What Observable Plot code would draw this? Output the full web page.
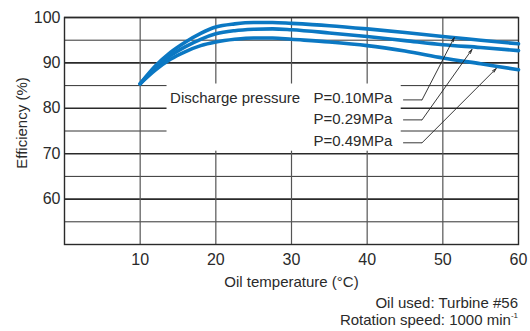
<!DOCTYPE html>
<html>
<head>
<meta charset="utf-8">
<script src="https://cdn.jsdelivr.net/npm/d3@7"></script>
<script src="https://cdn.jsdelivr.net/npm/@observablehq/plot@0.6"></script>
<style>
  body { margin: 0; background: #fff; font-family: "Liberation Sans", Arial, sans-serif; }
  #foot { width: 530px; box-sizing: border-box; padding-right: 12px; text-align: right;
          font-size: 15px; line-height: 17px; color: #2a2a2a; margin-top: 2px; }
  #foot sup { font-size: 8px; vertical-align: 7px; line-height: 0; }
</style>
</head>
<body>
<div id="chart"></div>
<div id="foot">Oil used: Turbine #56<br>Rotation speed: 1000 min<sup>-1</sup></div>
<script>
// Oil temperature (°C)
const temps = [10, 12, 14, 16, 18, 20, 22.5, 25, 27.5, 30, 35, 40, 45, 50, 55, 60];
// Efficiency (%) per discharge pressure
const eff010 = [85.4, 89.3, 92.3, 94.6, 96.5, 97.9, 98.6, 98.9, 98.9, 98.7, 98.2, 97.5, 96.7, 95.8, 95.0, 94.2];
const eff029 = [85.4, 88.9, 91.6, 93.6, 95.2, 96.4, 97.1, 97.4, 97.5, 97.3, 96.6, 95.8, 94.9, 94.0, 93.4, 92.7];
const eff049 = [85.4, 88.4, 90.8, 92.5, 93.8, 94.6, 95.2, 95.5, 95.5, 95.2, 94.6, 93.8, 92.6, 91.1, 89.8, 88.5];
const pressures = ["P=0.10MPa", "P=0.29MPa", "P=0.49MPa"];
const xTicks = [10, 20, 30, 40, 50, 60];
const yTicks = [60, 70, 80, 90, 100];
const yMinor = [55, 65, 75, 85, 95];

// annotation anchors in data units
const labelRowY = [82.25, 77.6, 72.75];
const leaderY = [81.85, 77.45, 72.4];
const arrowTipX = [51.5, 53.85, 57.05];
const arrowTipY = [95.55, 92.95, 88.75];

const series = [eff010, eff029, eff049];
const rows = [];
series.forEach((vals, k) => temps.forEach((t, i) => rows.push({p: pressures[k], t, e: vals[i]})));

const leaders = pressures.map((p, k) => ({
  p, ly: labelRowY[k], y: leaderY[k], tx: arrowTipX[k], ty: arrowTipY[k]
}));

const blue = "#0b78c3";
const ink = "#2a2a2a";
const chart = Plot.plot({
  width: 530,
  height: 292,
  marginTop: 17,
  marginLeft: 64,
  marginRight: 12,
  marginBottom: 48,
  style: {fontFamily: "Liberation Sans, Arial, sans-serif", color: ink, background: "#fff"},
  x: {domain: [0, 60], ticks: xTicks},
  y: {domain: [50, 100], ticks: yTicks},
  marks: [
    Plot.ruleY(yMinor, {stroke: "#333", strokeWidth: 1}),
    Plot.ruleY(yTicks, {stroke: ink, strokeWidth: 1.6}),
    Plot.ruleX(xTicks.slice(0, -1), {stroke: "#555", strokeWidth: 1.2}),
    // white label panel
    Plot.rect([{}], {x1: 13.55, x2: 44.5, y1: 70.55, y2: 85.35, fill: "white"}),
    Plot.frame({stroke: ink, strokeWidth: 1.4}),
    Plot.axisX(xTicks, {tickSize: 0, tickPadding: 9, fontSize: 16, label: null, fill: ink}),
    Plot.axisY(yTicks, {tickSize: 0, tickPadding: 4, fontSize: 16, label: null, fill: ink}),
    Plot.text(["Oil temperature (°C)"], {frameAnchor: "bottom", lineAnchor: "middle", textAnchor: "middle", dy: 38, fontSize: 15, fill: ink}),
    Plot.text(["Efficiency (%)"], {frameAnchor: "left", textAnchor: "middle", lineAnchor: "middle", rotate: -90, dx: -42, dy: -8, fontSize: 15, fill: ink}),
    Plot.line(rows, {x: "t", y: "e", z: "p", stroke: blue, strokeWidth: 3.6, curve: "monotone-x"}),
    Plot.text(["Discharge pressure"], {x: 13.95, y: labelRowY[0], textAnchor: "start", fontSize: 15, fill: ink}),
    Plot.text(leaders, {x: 32.9, y: "ly", text: "p", textAnchor: "start", fontSize: 15, fill: ink}),
    Plot.link(leaders, {x1: 44.75, x2: 47.25, y1: "y", y2: "y", stroke: "#222", strokeWidth: 0.9}),
    Plot.arrow(leaders, {x1: 47.25, y1: "y", x2: "tx", y2: "ty", stroke: "#222", strokeWidth: 0.9, headLength: 7, headAngle: 30})
  ]
});
document.getElementById("chart").append(chart);
</script>
</body>
</html>
